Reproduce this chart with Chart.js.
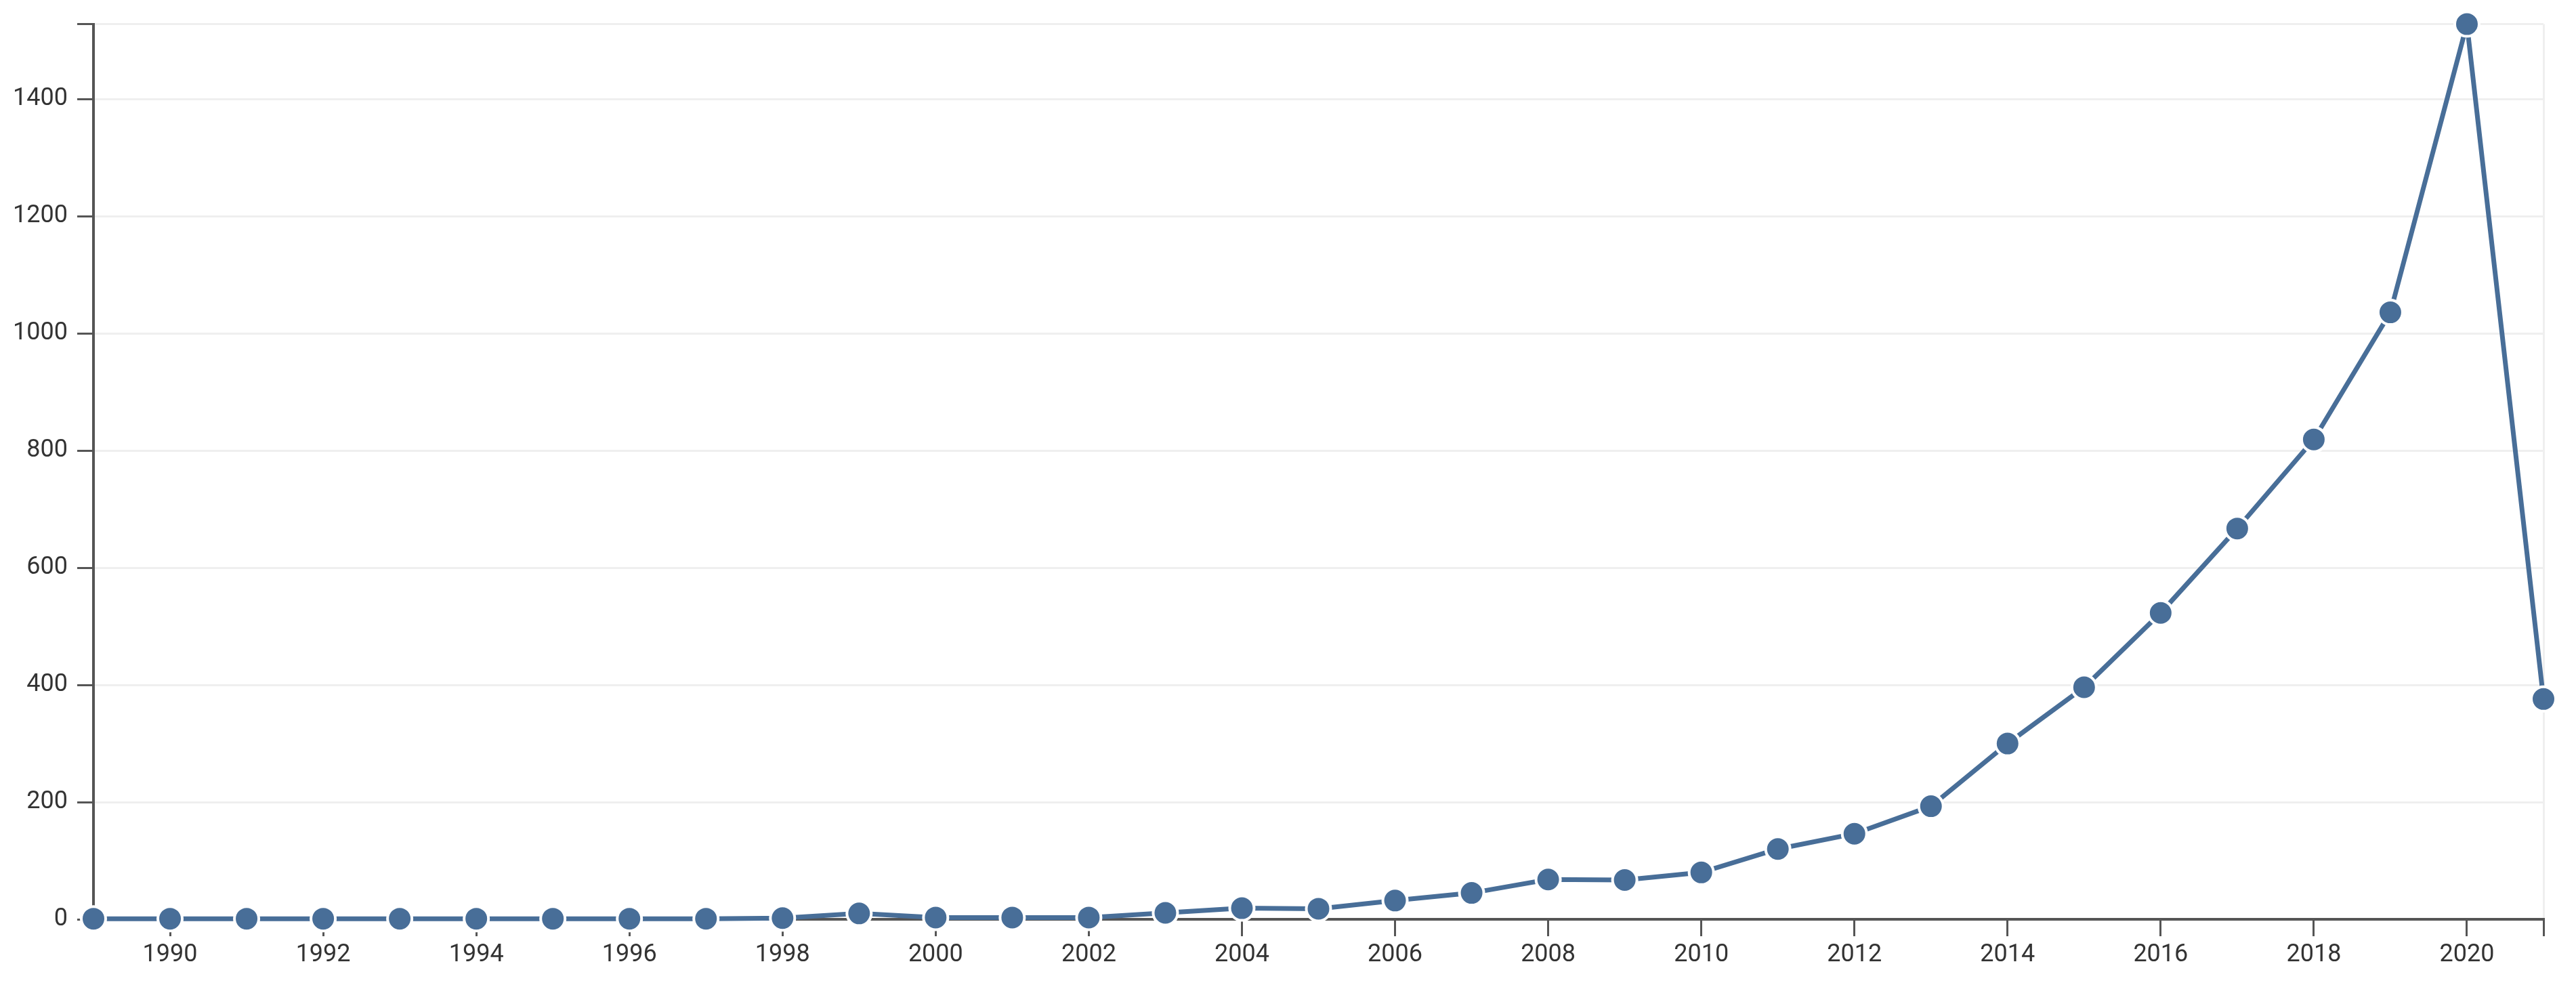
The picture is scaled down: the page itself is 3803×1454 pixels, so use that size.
<!DOCTYPE html>
<html>
<head>
<meta charset="utf-8">
<script src="https://cdn.jsdelivr.net/npm/chart.js@4/dist/chart.umd.min.js"></script>
<style>
  body { margin: 0; background: #fff; }
  #wrap { width: 3803px; height: 1454px; }
</style>
</head>
<body>
<div id="wrap"><canvas id="chart" width="3803" height="1454"></canvas></div>
<script>
// 연도별 데이터
const years = [1989, 1990, 1991, 1992, 1993, 1994, 1995, 1996, 1997, 1998, 1999, 2000, 2001, 2002, 2003, 2004,
  2005, 2006, 2007, 2008, 2009, 2010, 2011, 2012, 2013, 2014, 2015, 2016, 2017, 2018, 2019, 2020, 2021];
const counts = [1, 1, 1, 1, 1, 1, 1, 1, 1, 2, 10, 3, 3, 3, 11, 19,
  18, 32, 45, 68, 67, 80, 120, 146, 193, 300, 396, 523, 667, 819, 1036, 1528, 376];
// x축 라벨 (짝수 연도)
const xTickYears = years.filter(y => y % 2 === 0);
const yTickStep = 200;

const lineColor = '#486e98';
const axisColor = '#555555';
const gridColor = '#efefef';

const firstYear = years[0];
const lastYear = years[years.length - 1];
const points = years.map((y, i) => ({ x: y, y: counts[i] }));

new Chart(document.getElementById('chart'), {
  type: 'line',
  data: {
    datasets: [{
      data: points,
      borderColor: lineColor,
      backgroundColor: lineColor,
      borderWidth: 7,
      pointRadius: 18,
      pointBorderWidth: 4,
      pointBorderColor: '#ffffff',
      pointBackgroundColor: lineColor,
      tension: 0,
      clip: false
    }]
  },
  options: {
    responsive: false,
    animation: false,
    layout: { padding: { top: 34, right: 48, left: 0, bottom: 0 } },
    plugins: { legend: { display: false }, tooltip: { enabled: false } },
    scales: {
      x: {
        type: 'linear',
        min: firstYear,
        max: lastYear,
        border: { color: axisColor, width: 4 },
        grid: {
          drawOnChartArea: true,
          color: ctx => (ctx.tick && ctx.tick.value === lastYear) ? gridColor : 'rgba(0,0,0,0)',
          lineWidth: 3,
          tickLength: 25,
          tickWidth: 3,
          tickColor: axisColor
        },
        afterBuildTicks: scale => {
          scale.ticks = xTickYears.map(v => ({ value: v })).concat([{ value: lastYear }]);
        },
        ticks: {
          autoSkip: false,
          maxRotation: 0,
          padding: 6,
          color: '#333',
          font: { family: 'Roboto', size: 36 },
          callback: v => (v % 2 === 0) ? String(v) : ''
        },
        afterFit: scale => { scale.height = 97; }
      },
      y: {
        min: 0,
        max: Math.max(...counts),
        border: { color: axisColor, width: 4 },
        grid: {
          color: gridColor,
          lineWidth: 3,
          tickLength: 24,
          tickWidth: 3,
          tickColor: axisColor
        },
        ticks: {
          stepSize: yTickStep,
          padding: 14,
          color: '#333',
          font: { family: 'Roboto', size: 36 },
          callback: v => (v % yTickStep === 0) ? String(v) : ''
        },
        afterFit: scale => { scale.width = 138; }
      }
    }
  }
});
</script>
</body>
</html>
